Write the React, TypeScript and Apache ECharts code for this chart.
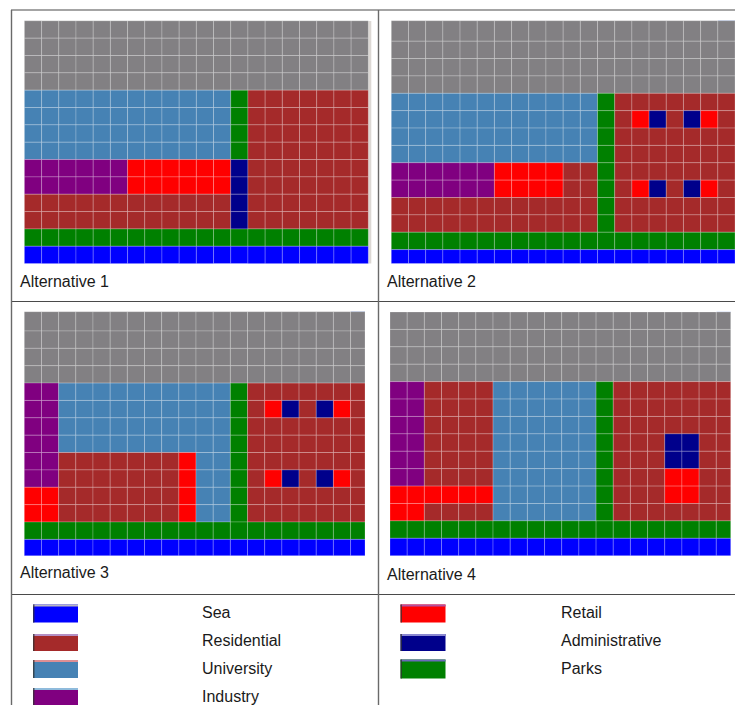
import React, { useEffect, useRef } from "react";
import * as echarts from "echarts";

const W = 735;
const H = 705;

const palette: Record<string, string> = {
  G: "#828083",
  S: "#0000ff",
  R: "#a52a2a",
  U: "#4682b4",
  I: "#800080",
  T: "#ff0000",
  A: "#00008b",
  P: "#008000",
};
const codes = Object.keys(palette);

const gray = "GGGGGGGGGGGGGGGGGGGG";
const parks = "PPPPPPPPPPPPPPPPPPPP";
const sea = "SSSSSSSSSSSSSSSSSSSS";

const alternative1 = [
  gray, gray, gray, gray,
  "UUUUUUUUUUUUPRRRRRRR",
  "UUUUUUUUUUUUPRRRRRRR",
  "UUUUUUUUUUUUPRRRRRRR",
  "UUUUUUUUUUUUPRRRRRRR",
  "IIIIIITTTTTTARRRRRRR",
  "IIIIIITTTTTTARRRRRRR",
  "RRRRRRRRRRRRARRRRRRR",
  "RRRRRRRRRRRRARRRRRRR",
  parks, sea,
];
const alternative2 = [
  gray, gray, gray, gray,
  "UUUUUUUUUUUUPRRRRRRR",
  "UUUUUUUUUUUUPRTARATR",
  "UUUUUUUUUUUUPRRRRRRR",
  "UUUUUUUUUUUUPRRRRRRR",
  "IIIIIITTTTRRPRRRRRRR",
  "IIIIIITTTTRRPRTARATR",
  "RRRRRRRRRRRRPRRRRRRR",
  "RRRRRRRRRRRRPRRRRRRR",
  parks, sea,
];
const alternative3 = [
  gray, gray, gray, gray,
  "IIUUUUUUUUUUPRRRRRRR",
  "IIUUUUUUUUUUPRTARATR",
  "IIUUUUUUUUUUPRRRRRRR",
  "IIUUUUUUUUUUPRRRRRRR",
  "IIRRRRRRRTUUPRRRRRRR",
  "IIRRRRRRRTUUPRTARATR",
  "TTRRRRRRRTUUPRRRRRRR",
  "TTRRRRRRRTUUPRRRRRRR",
  parks, sea,
];
const alternative4 = [
  gray, gray, gray, gray,
  "IIRRRRUUUUUUPRRRRRRR",
  "IIRRRRUUUUUUPRRRRRRR",
  "IIRRRRUUUUUUPRRRRRRR",
  "IIRRRRUUUUUUPRRRAARR",
  "IIRRRRUUUUUUPRRRAARR",
  "IIRRRRUUUUUUPRRRTTRR",
  "TTTTTTUUUUUUPRRRTTRR",
  "TTRRRRUUUUUUPRRRRRRR",
  parks, sea,
];

const panelTitles = ["Alternative 1", "Alternative 2", "Alternative 3", "Alternative 4"];
const panelLayouts = [alternative1, alternative2, alternative3, alternative4];
// left, top, width, height, x range, y range (cell units; the source picture crops its cells a little)
const panelFrames = [
  { x: 24.4, y: 20.8, w: 343.9, h: 242.8, xMax: 20, yMin: 0, yMax: 14 },
  { x: 391.3, y: 20.7, w: 343.7, h: 242.8, xMax: 20, yMin: -0.18, yMax: 13.8 },
  { x: 24.3, y: 311.7, w: 340.7, h: 244, xMax: 19.84, yMin: -0.11, yMax: 13.94 },
  { x: 390, y: 312, w: 340.7, h: 243.7, xMax: 19.84, yMin: 0, yMax: 14 },
];
const panelTitlePos = [
  { x: 20, y: 281 },
  { x: 387, y: 281 },
  { x: 20, y: 572 },
  { x: 387, y: 574 },
];

const legendNames = ["Sea", "Residential", "University", "Industry", "Retail", "Administrative", "Parks"];
const legendCodes = ["S", "R", "U", "I", "T", "A", "P"];
const legendBands = ["#b9b7c2", "#b48fc4", "#dd8f94", "#8fbbdc", "#b44fa0", "#8a88d0", "#6a6ab8"];
const legendSwatchX = [33, 33, 33, 33, 400.5, 400.5, 400.5];
const legendSwatchY = [604.5, 634, 660, 688, 604.5, 634, 659.5];
const legendSwatchH = [18, 17, 18, 18, 18, 17, 19];
const legendTextX = [202, 202, 202, 202, 561, 561, 561];
const legendTextY = [612.5, 640, 668, 696, 612.5, 640, 668];

const tableLines = [
  [11, 10, 735, 10],
  [11, 301.5, 735, 301.5],
  [11, 594.5, 735, 594.5],
  [11.5, 10, 11.5, 705],
  [378.5, 10, 378.5, 705],
];

const FONT = '"Liberation Sans", Arial, sans-serif';

function renderCell(params: any, api: any) {
  const c = api.value(0);
  const r = api.value(1);
  const code = codes[api.value(2)];
  const cs = params.coordSys;
  // top row bleeds up to the frame's edge, as in the source picture
  const a = api.coord([c, r === 0 ? r - 1 : r]);
  const b = api.coord([c + 1, r + 1]);
  const rect = echarts.graphic.clipRectByRect(
    { x: a[0], y: a[1], width: b[0] - a[0], height: b[1] - a[1] },
    { x: cs.x, y: cs.y, width: cs.width, height: cs.height }
  );
  if (!rect) return null;
  return {
    type: "rect",
    shape: rect,
    style: { fill: palette[code], stroke: "rgba(255,255,255,0.24)", lineWidth: 0.9 },
  };
}

function cellsOf(rows: string[]) {
  const out: number[][] = [];
  rows.forEach((row, r) => {
    row.split("").forEach((ch, c) => out.push([c, r, codes.indexOf(ch)]));
  });
  return out;
}

export default function App() {
  const ref = useRef<HTMLDivElement>(null);
  useEffect(() => {
    document.body.style.margin = "0";
    document.body.style.overflow = "hidden";
    const chart = echarts.init(ref.current!, undefined, { renderer: "svg" });

    const graphics: any[] = [];
    tableLines.forEach(([x1, y1, x2, y2], i) => {
      graphics.push({
        type: "line",
        silent: true,
        shape: { x1, y1, x2, y2 },
        style: { stroke: i < 3 ? "#4a4a4a" : "#6a6a6a", lineWidth: i < 3 ? 1.2 : 1.4 },
      });
    });
    panelTitles.forEach((t, i) => {
      graphics.push({
        type: "text",
        silent: true,
        x: panelTitlePos[i].x,
        y: panelTitlePos[i].y,
        style: { text: t, font: `16px ${FONT}`, fill: "#1a1a1a", textVerticalAlign: "middle" },
      });
    });
    legendNames.forEach((name, i) => {
      const x = legendSwatchX[i];
      const y = legendSwatchY[i];
      const h = legendSwatchH[i];
      graphics.push(
        { type: "rect", silent: true, shape: { x, y, width: 45, height: h }, style: { fill: palette[legendCodes[i]] } },
        { type: "rect", silent: true, shape: { x, y, width: 45, height: 2 }, style: { fill: legendBands[i] } },
        { type: "rect", silent: true, shape: { x, y, width: 1.5, height: h }, style: { fill: "#333", opacity: 0.75 } },
        {
          type: "text",
          silent: true,
          x: legendTextX[i],
          y: legendTextY[i],
          style: { text: name, font: `16px ${FONT}`, fill: "#1a1a1a", textVerticalAlign: "middle" },
        }
      );
    });
    // thin stray marks of the source picture
    graphics.push(
      { type: "rect", silent: true, shape: { x: 368.3, y: 21, width: 3, height: 242.5 }, style: { fill: "#dcd8d4" } },
      { type: "rect", silent: true, shape: { x: 718, y: 20.7, width: 17, height: 1.8 }, style: { fill: "#6a8ff0" } },
      { type: "rect", silent: true, shape: { x: 351, y: 311.7, width: 14, height: 1.5 }, style: { fill: "#6a8ff0" } },
      { type: "rect", silent: true, shape: { x: 716.5, y: 311.7, width: 14.2, height: 1 }, style: { fill: "#a9b8e8" } }
    );

    chart.setOption({
      animation: false,
      backgroundColor: "#ffffff",
      grid: panelFrames.map((f) => ({ left: f.x, top: f.y, width: f.w, height: f.h, containLabel: false })),
      xAxis: panelFrames.map((f, i) => ({ type: "value", gridIndex: i, min: 0, max: f.xMax, show: false })),
      yAxis: panelFrames.map((f, i) => ({
        type: "value",
        gridIndex: i,
        min: f.yMin,
        max: f.yMax,
        inverse: true,
        show: false,
      })),
      series: panelLayouts.map((rows, i) => ({
        type: "custom",
        name: panelTitles[i],
        xAxisIndex: i,
        yAxisIndex: i,
        silent: true,
        renderItem: renderCell,
        data: cellsOf(rows),
        encode: { x: 0, y: 1 },
      })),
      graphic: { elements: graphics },
    });
    return () => chart.dispose();
  }, []);
  return <div ref={ref} style={{ width: W, height: H }} />;
}
